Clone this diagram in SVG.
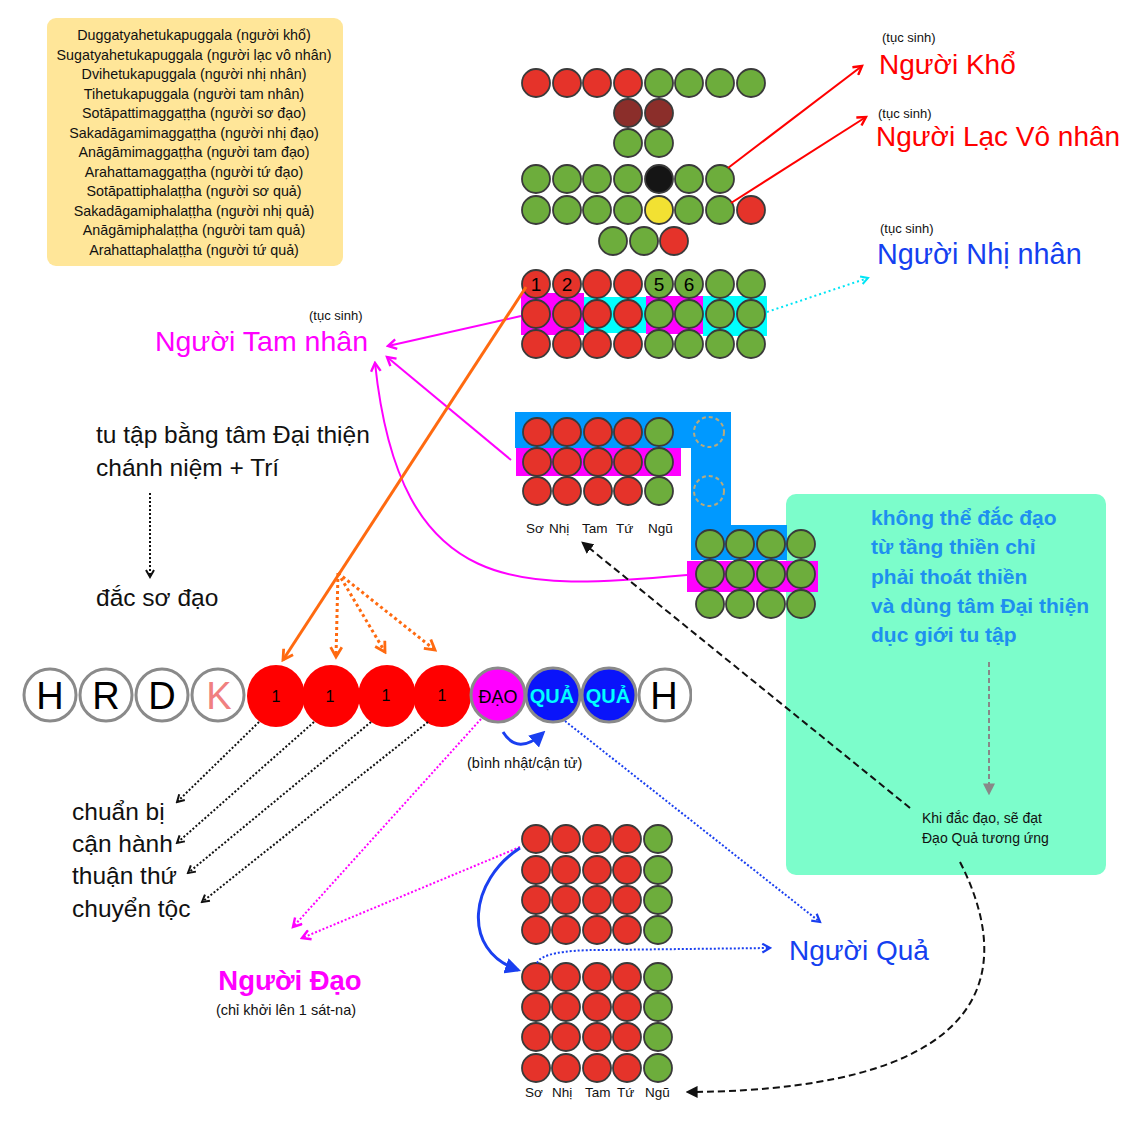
<svg xmlns="http://www.w3.org/2000/svg" width="1135" height="1122" viewBox="0 0 1135 1122">
<style>
text{font-family:"Liberation Sans",Arial,sans-serif;}
.r{fill:#E5332A;stroke:#3a3a3a;stroke-width:1.8}
.g{fill:#6DAD3C;stroke:#3a3a3a;stroke-width:1.8}
.dr{fill:#8B2E2A;stroke:#3a3a3a;stroke-width:1.8}
.bk{fill:#151515;stroke:#3a3a3a;stroke-width:1.8}
.yl{fill:#F2E132;stroke:#3a3a3a;stroke-width:1.8}
.dc{fill:none;stroke:#B8AA7C;stroke-width:2;stroke-dasharray:4 3}
.seq{fill:#fff;stroke:#8a8a8a;stroke-width:3}
.box{font-size:14.3px;fill:#111;text-anchor:middle}
.ts{font-size:13px;fill:#111}
.big{font-size:28px}
.lbl{font-size:24.5px;fill:#111}
.gl{font-size:21px;font-weight:bold;fill:#1E8FEF}
.col{font-size:13.5px;fill:#111}
.num{font-size:19px;fill:#000;text-anchor:middle}
.conn path,.conn line{fill:none}
</style>
<defs>
<marker id="aR" viewBox="0 0 10 10" refX="8" refY="5" markerWidth="12" markerHeight="12" markerUnits="userSpaceOnUse" orient="auto"><path d="M1,1 L8,5 L1,9" fill="none" stroke="#FF0000" stroke-width="2"/></marker>
<marker id="aO" viewBox="0 0 10 10" refX="8" refY="5" markerWidth="14" markerHeight="14" markerUnits="userSpaceOnUse" orient="auto"><path d="M1,1 L8,5 L1,9" fill="none" stroke="#FF6A10" stroke-width="2"/></marker>
<marker id="aM" viewBox="0 0 10 10" refX="8" refY="5" markerWidth="12" markerHeight="12" markerUnits="userSpaceOnUse" orient="auto"><path d="M1,1 L8,5 L1,9" fill="none" stroke="#FF00FF" stroke-width="2"/></marker>
<marker id="aK" viewBox="0 0 10 10" refX="8" refY="5" markerWidth="10" markerHeight="10" markerUnits="userSpaceOnUse" orient="auto"><path d="M1,1 L8,5 L1,9" fill="none" stroke="#111" stroke-width="2"/></marker>
<marker id="aB" viewBox="0 0 10 10" refX="8" refY="5" markerWidth="11" markerHeight="11" markerUnits="userSpaceOnUse" orient="auto"><path d="M1,1 L8,5 L1,9" fill="none" stroke="#1A3FF0" stroke-width="2"/></marker>
<marker id="aC" viewBox="0 0 10 10" refX="8" refY="5" markerWidth="10" markerHeight="10" markerUnits="userSpaceOnUse" orient="auto"><path d="M1,1 L8,5 L1,9" fill="none" stroke="#00E5F5" stroke-width="2"/></marker>
<marker id="fB" viewBox="0 0 10 10" refX="8" refY="5" markerWidth="16" markerHeight="16" markerUnits="userSpaceOnUse" orient="auto"><path d="M0,0 L10,5 L0,10 Z" fill="#1A3FF0"/></marker>
<marker id="fK" viewBox="0 0 10 10" refX="8" refY="5" markerWidth="12" markerHeight="12" markerUnits="userSpaceOnUse" orient="auto"><path d="M0,0 L10,5 L0,10 Z" fill="#111"/></marker>
<marker id="fG" viewBox="0 0 10 10" refX="8" refY="5" markerWidth="12" markerHeight="12" markerUnits="userSpaceOnUse" orient="auto"><path d="M0,0 L10,5 L0,10 Z" fill="#888"/></marker>
<clipPath id="cutH"><rect x="630" y="660" width="62" height="80"/></clipPath>
</defs>

<g id="legend">
<rect x="47" y="18" width="296" height="248" rx="9" fill="#FFE699"/>
<text class="box" x="194" y="40">Duggatyahetukapuggala (người khổ)</text>
<text class="box" x="194" y="60">Sugatyahetukapuggala (người lạc vô nhân)</text>
<text class="box" x="194" y="79">Dvihetukapuggala (người nhị nhân)</text>
<text class="box" x="194" y="99">Tihetukapuggala (người tam nhân)</text>
<text class="box" x="194" y="118">Sotāpattimaggaṭṭha (người sơ đạo)</text>
<text class="box" x="194" y="138">Sakadāgamimaggaṭṭha (người nhị đạo)</text>
<text class="box" x="194" y="157">Anāgāmimaggaṭṭha (người tam đạo)</text>
<text class="box" x="194" y="177">Arahattamaggaṭṭha (người tứ đạo)</text>
<text class="box" x="194" y="196">Sotāpattiphalaṭṭha (người sơ quả)</text>
<text class="box" x="194" y="216">Sakadāgamiphalaṭṭha (người nhị quả)</text>
<text class="box" x="194" y="235">Anāgāmiphalaṭṭha (người tam quả)</text>
<text class="box" x="194" y="255">Arahattaphalaṭṭha (người tứ quả)</text>
</g>

<g id="green-box">
<rect x="786" y="494" width="320" height="381" rx="10" fill="#7CFDCB"/>
<text class="gl" x="871" y="525">không thể đắc đạo</text>
<text class="gl" x="871" y="554">từ tầng thiền chỉ</text>
<text class="gl" x="871" y="584">phải thoát thiền</text>
<text class="gl" x="871" y="613">và dùng tâm Đại thiện</text>
<text class="gl" x="871" y="642">dục giới tu tập</text>
<text style="font-size:14px;fill:#111" x="922" y="823">Khi đắc đạo, sẽ đạt</text>
<text style="font-size:14px;fill:#111" x="922" y="843">Đạo Quả tương ứng</text>
</g>

<g id="grid-top">
<circle class="r" cx="536" cy="83" r="14"/><circle class="r" cx="567" cy="83" r="14"/><circle class="r" cx="597" cy="83" r="14"/><circle class="r" cx="628" cy="83" r="14"/>
<circle class="g" cx="659" cy="83" r="14"/><circle class="g" cx="689" cy="83" r="14"/><circle class="g" cx="720" cy="83" r="14"/><circle class="g" cx="751" cy="83" r="14"/>
<circle class="dr" cx="628" cy="113" r="14"/><circle class="dr" cx="659" cy="113" r="14"/>
<circle class="g" cx="628" cy="143" r="14"/><circle class="g" cx="659" cy="143" r="14"/>
<circle class="g" cx="536" cy="179" r="14"/><circle class="g" cx="567" cy="179" r="14"/><circle class="g" cx="597" cy="179" r="14"/><circle class="g" cx="628" cy="179" r="14"/>
<circle class="bk" cx="659" cy="179" r="14"/><circle class="g" cx="689" cy="179" r="14"/><circle class="g" cx="720" cy="179" r="14"/>
<circle class="g" cx="536" cy="210" r="14"/><circle class="g" cx="567" cy="210" r="14"/><circle class="g" cx="597" cy="210" r="14"/><circle class="g" cx="628" cy="210" r="14"/>
<circle class="yl" cx="659" cy="210" r="14"/><circle class="g" cx="689" cy="210" r="14"/><circle class="g" cx="720" cy="210" r="14"/><circle class="r" cx="751" cy="210" r="14"/>
<circle class="g" cx="613" cy="241" r="14"/><circle class="g" cx="644" cy="241" r="14"/><circle class="r" cx="674" cy="241" r="14"/>
</g>

<g id="grid-rebirth">
<rect x="521" y="293" width="63" height="42" fill="#FF00FF"/>
<rect x="584" y="297" width="62" height="36" fill="#00FFFF"/>
<rect x="646" y="296" width="57" height="38" fill="#FF00FF"/>
<rect x="703" y="296" width="64" height="40" fill="#00FFFF"/>
<circle class="r" cx="536" cy="284" r="14"/><circle class="r" cx="567" cy="284" r="14"/><circle class="r" cx="597" cy="284" r="14"/><circle class="r" cx="628" cy="284" r="14"/>
<circle class="g" cx="659" cy="284" r="14"/><circle class="g" cx="689" cy="284" r="14"/><circle class="g" cx="720" cy="284" r="14"/><circle class="g" cx="751" cy="284" r="14"/>
<circle class="r" cx="536" cy="314" r="14"/><circle class="r" cx="567" cy="314" r="14"/><circle class="r" cx="597" cy="314" r="14"/><circle class="r" cx="628" cy="314" r="14"/>
<circle class="g" cx="659" cy="314" r="14"/><circle class="g" cx="689" cy="314" r="14"/><circle class="g" cx="720" cy="314" r="14"/><circle class="g" cx="751" cy="314" r="14"/>
<circle class="r" cx="536" cy="344" r="14"/><circle class="r" cx="567" cy="344" r="14"/><circle class="r" cx="597" cy="344" r="14"/><circle class="r" cx="628" cy="344" r="14"/>
<circle class="g" cx="659" cy="344" r="14"/><circle class="g" cx="689" cy="344" r="14"/><circle class="g" cx="720" cy="344" r="14"/><circle class="g" cx="751" cy="344" r="14"/>
<text class="num" x="536" y="291">1</text><text class="num" x="567" y="291">2</text><text class="num" x="659" y="291">5</text><text class="num" x="689" y="291">6</text>
</g>

<g id="grid-jhana">
<rect x="515" y="412" width="216" height="36" fill="#0099FF"/>
<rect x="691" y="448" width="40" height="78" fill="#0099FF"/>
<rect x="691" y="525" width="96" height="35" fill="#0099FF"/>
<rect x="516" y="448" width="165" height="28" fill="#FF00FF"/>
<rect x="687" y="561" width="131" height="31" fill="#FF00FF"/>
<circle class="r" cx="537" cy="432" r="14"/><circle class="r" cx="567" cy="432" r="14"/><circle class="r" cx="598" cy="432" r="14"/><circle class="r" cx="628" cy="432" r="14"/><circle class="g" cx="659" cy="432" r="14"/>
<circle class="r" cx="537" cy="462" r="14"/><circle class="r" cx="567" cy="462" r="14"/><circle class="r" cx="598" cy="462" r="14"/><circle class="r" cx="628" cy="462" r="14"/><circle class="g" cx="659" cy="462" r="14"/>
<circle class="r" cx="537" cy="491" r="14"/><circle class="r" cx="567" cy="491" r="14"/><circle class="r" cx="598" cy="491" r="14"/><circle class="r" cx="628" cy="491" r="14"/><circle class="g" cx="659" cy="491" r="14"/>
<circle class="dc" cx="709" cy="432" r="15"/><circle class="dc" cx="709" cy="491" r="15"/>
<circle class="g" cx="710" cy="544" r="14"/><circle class="g" cx="740" cy="544" r="14"/><circle class="g" cx="771" cy="544" r="14"/><circle class="g" cx="801" cy="544" r="14"/>
<circle class="g" cx="710" cy="574" r="14"/><circle class="g" cx="740" cy="574" r="14"/><circle class="g" cx="771" cy="574" r="14"/><circle class="g" cx="801" cy="574" r="14"/>
<circle class="g" cx="710" cy="604" r="14"/><circle class="g" cx="740" cy="604" r="14"/><circle class="g" cx="771" cy="604" r="14"/><circle class="g" cx="801" cy="604" r="14"/>
<text class="col" x="526" y="533">Sơ</text><text class="col" x="549" y="533">Nhị</text><text class="col" x="582" y="533">Tam</text><text class="col" x="616" y="533">Tứ</text><text class="col" x="648" y="533">Ngũ</text>
</g>

<g id="grid-path">
<circle class="r" cx="536" cy="839" r="14"/><circle class="r" cx="566" cy="839" r="14"/><circle class="r" cx="597" cy="839" r="14"/><circle class="r" cx="627" cy="839" r="14"/><circle class="g" cx="658" cy="839" r="14"/>
<circle class="r" cx="536" cy="870" r="14"/><circle class="r" cx="566" cy="870" r="14"/><circle class="r" cx="597" cy="870" r="14"/><circle class="r" cx="627" cy="870" r="14"/><circle class="g" cx="658" cy="870" r="14"/>
<circle class="r" cx="536" cy="900" r="14"/><circle class="r" cx="566" cy="900" r="14"/><circle class="r" cx="597" cy="900" r="14"/><circle class="r" cx="627" cy="900" r="14"/><circle class="g" cx="658" cy="900" r="14"/>
<circle class="r" cx="536" cy="930" r="14"/><circle class="r" cx="566" cy="930" r="14"/><circle class="r" cx="597" cy="930" r="14"/><circle class="r" cx="627" cy="930" r="14"/><circle class="g" cx="658" cy="930" r="14"/>
</g>

<g id="grid-fruit">
<circle class="r" cx="536" cy="977" r="14"/><circle class="r" cx="566" cy="977" r="14"/><circle class="r" cx="597" cy="977" r="14"/><circle class="r" cx="627" cy="977" r="14"/><circle class="g" cx="658" cy="977" r="14"/>
<circle class="r" cx="536" cy="1007" r="14"/><circle class="r" cx="566" cy="1007" r="14"/><circle class="r" cx="597" cy="1007" r="14"/><circle class="r" cx="627" cy="1007" r="14"/><circle class="g" cx="658" cy="1007" r="14"/>
<circle class="r" cx="536" cy="1037" r="14"/><circle class="r" cx="566" cy="1037" r="14"/><circle class="r" cx="597" cy="1037" r="14"/><circle class="r" cx="627" cy="1037" r="14"/><circle class="g" cx="658" cy="1037" r="14"/>
<circle class="r" cx="536" cy="1068" r="14"/><circle class="r" cx="566" cy="1068" r="14"/><circle class="r" cx="597" cy="1068" r="14"/><circle class="r" cx="627" cy="1068" r="14"/><circle class="g" cx="658" cy="1068" r="14"/>
<text class="col" x="525" y="1097">Sơ</text><text class="col" x="552" y="1097">Nhị</text><text class="col" x="585" y="1097">Tam</text><text class="col" x="617" y="1097">Tứ</text><text class="col" x="645" y="1097">Ngũ</text>
</g>

<g id="sequence">
<circle class="seq" cx="50" cy="695" r="26"/><text x="50" y="709" style="font-size:38px;fill:#000;text-anchor:middle">H</text>
<circle class="seq" cx="106" cy="695" r="26"/><text x="106" y="709" style="font-size:38px;fill:#000;text-anchor:middle">R</text>
<circle class="seq" cx="162" cy="695" r="26"/><text x="162" y="709" style="font-size:38px;fill:#000;text-anchor:middle">D</text>
<circle class="seq" cx="218" cy="695" r="26"/><text x="219" y="709" style="font-size:38px;fill:#F08080;text-anchor:middle">K</text>
<ellipse cx="276" cy="696" rx="29" ry="31" fill="#FF0000"/><text x="276" y="702" style="font-size:16px;fill:#000;text-anchor:middle">1</text>
<ellipse cx="331" cy="696" rx="29" ry="31" fill="#FF0000"/><text x="330" y="702" style="font-size:16px;fill:#000;text-anchor:middle">1</text>
<ellipse cx="387" cy="696" rx="29" ry="31" fill="#FF0000"/><text x="386" y="701" style="font-size:16px;fill:#000;text-anchor:middle">1</text>
<ellipse cx="442" cy="696" rx="29" ry="31" fill="#FF0000"/><text x="442" y="701" style="font-size:16px;fill:#000;text-anchor:middle">1</text>
<circle cx="498" cy="695" r="27" fill="#FF00FF" stroke="#8a8a8a" stroke-width="3"/><text x="498" y="703" style="font-size:18px;fill:#000;text-anchor:middle">ĐẠO</text>
<circle cx="553" cy="695" r="27" fill="#0A14FA" stroke="#8a8a8a" stroke-width="3"/><text x="552" y="703" style="font-size:20px;font-weight:bold;fill:#00FFFF;text-anchor:middle">QUẢ</text>
<circle cx="609" cy="695" r="27" fill="#0A14FA" stroke="#8a8a8a" stroke-width="3"/><text x="608" y="703" style="font-size:20px;font-weight:bold;fill:#00FFFF;text-anchor:middle">QUẢ</text>
<g clip-path="url(#cutH)"><circle class="seq" cx="665" cy="695" r="26"/><text x="664" y="709" style="font-size:38px;fill:#000;text-anchor:middle">H</text></g>
</g>

<g id="labels">
<text class="ts" x="882" y="42">(tục sinh)</text>
<text class="big" x="879" y="74" fill="#FF0000">Người Khổ</text>
<text class="ts" x="878" y="118">(tục sinh)</text>
<text class="big" x="876" y="146" fill="#FF0000">Người Lạc Vô nhân</text>
<text class="ts" x="880" y="233">(tục sinh)</text>
<text x="877" y="264" fill="#1440F0" style="font-size:28.8px">Người Nhị nhân</text>
<text class="ts" x="309" y="320">(tục sinh)</text>
<text x="368" y="351" fill="#FF00FF" text-anchor="end" style="font-size:28.5px">Người Tam nhân</text>
<text class="lbl" x="96" y="443">tu tập bằng tâm Đại thiện</text>
<text class="lbl" x="96" y="476">chánh niệm + Trí</text>
<text class="lbl" x="96" y="606">đắc sơ đạo</text>
<text class="lbl" x="72" y="820">chuẩn bị</text>
<text class="lbl" x="72" y="852">cận hành</text>
<text class="lbl" x="72" y="884">thuận thứ</text>
<text class="lbl" x="72" y="917">chuyển tộc</text>
<text style="font-size:14.5px;fill:#111" x="467" y="768">(bình nhật/cận tử)</text>
<text x="290" y="990" style="font-size:27.5px;font-weight:bold;fill:#FF00FF;text-anchor:middle">Người Đạo</text>
<text x="286" y="1015" style="font-size:14.5px;fill:#111;text-anchor:middle">(chỉ khởi lên 1 sát-na)</text>
<text class="big" x="789" y="960" fill="#1440F0">Người Quả</text>
</g>

<g id="connectors" class="conn">
<line x1="728" y1="168" x2="862" y2="66" stroke="#FF0000" stroke-width="2" marker-end="url(#aR)"/>
<line x1="731" y1="203" x2="866" y2="117" stroke="#FF0000" stroke-width="2" marker-end="url(#aR)"/>
<line x1="767" y1="312" x2="868" y2="278" stroke="#00E5F5" stroke-width="2" stroke-dasharray="2 3" marker-end="url(#aC)"/>
<line x1="521" y1="316" x2="388" y2="346" stroke="#FF00FF" stroke-width="2" marker-end="url(#aM)"/>
<line x1="511" y1="460" x2="387" y2="357" stroke="#FF00FF" stroke-width="2" marker-end="url(#aM)"/>
<path d="M687,575 C520,590 400,600 375,363" stroke="#FF00FF" stroke-width="2" marker-end="url(#aM)"/>
<line x1="526" y1="287" x2="283" y2="660" stroke="#FF6A10" stroke-width="3" marker-end="url(#aO)"/>
<line x1="338" y1="573" x2="336" y2="657" stroke="#FF6A10" stroke-width="3" stroke-dasharray="3 3" marker-end="url(#aO)"/>
<line x1="338" y1="573" x2="385" y2="652" stroke="#FF6A10" stroke-width="3" stroke-dasharray="3 3" marker-end="url(#aO)"/>
<line x1="338" y1="573" x2="435" y2="650" stroke="#FF6A10" stroke-width="3" stroke-dasharray="3 3" marker-end="url(#aO)"/>
<line x1="150" y1="493" x2="150" y2="577" stroke="#111" stroke-width="2" stroke-dasharray="2 2" marker-end="url(#aK)"/>
<line x1="259" y1="722" x2="177" y2="802" stroke="#111" stroke-width="2" stroke-dasharray="2 2" marker-end="url(#aK)"/>
<line x1="314" y1="722" x2="177" y2="843" stroke="#111" stroke-width="2" stroke-dasharray="2 2" marker-end="url(#aK)"/>
<line x1="371" y1="722" x2="188" y2="873" stroke="#111" stroke-width="2" stroke-dasharray="2 2" marker-end="url(#aK)"/>
<line x1="428" y1="722" x2="202" y2="902" stroke="#111" stroke-width="2" stroke-dasharray="2 2" marker-end="url(#aK)"/>
<line x1="481" y1="719" x2="293" y2="927" stroke="#FF00FF" stroke-width="2" stroke-dasharray="2 2" marker-end="url(#aM)"/>
<line x1="520" y1="847" x2="302" y2="938" stroke="#FF00FF" stroke-width="2" stroke-dasharray="2 2" marker-end="url(#aM)"/>
<path d="M503,732 Q518,756 543,733" stroke="#1A3FF0" stroke-width="3" marker-end="url(#fB)"/>
<line x1="565" y1="721" x2="820" y2="922" stroke="#1A3FF0" stroke-width="2" stroke-dasharray="2 2" marker-end="url(#aB)"/>
<path d="M520,848 C470,880 460,950 518,970" stroke="#1A3FF0" stroke-width="3" marker-end="url(#fB)"/>
<path d="M537,963 Q543,950 600,950 L770,948" stroke="#1A3FF0" stroke-width="2" stroke-dasharray="2 2" marker-end="url(#aB)"/>
<line x1="910" y1="808" x2="583" y2="543" stroke="#111" stroke-width="2" stroke-dasharray="7 4" marker-end="url(#fK)"/>
<path d="M960,862 C1010,960 1010,1090 688,1092" stroke="#111" stroke-width="2" stroke-dasharray="7 4" marker-end="url(#fK)"/>
<line x1="989" y1="662" x2="989" y2="793" stroke="#888" stroke-width="2" stroke-dasharray="5 3" marker-end="url(#fG)"/>
</g>
</svg>
